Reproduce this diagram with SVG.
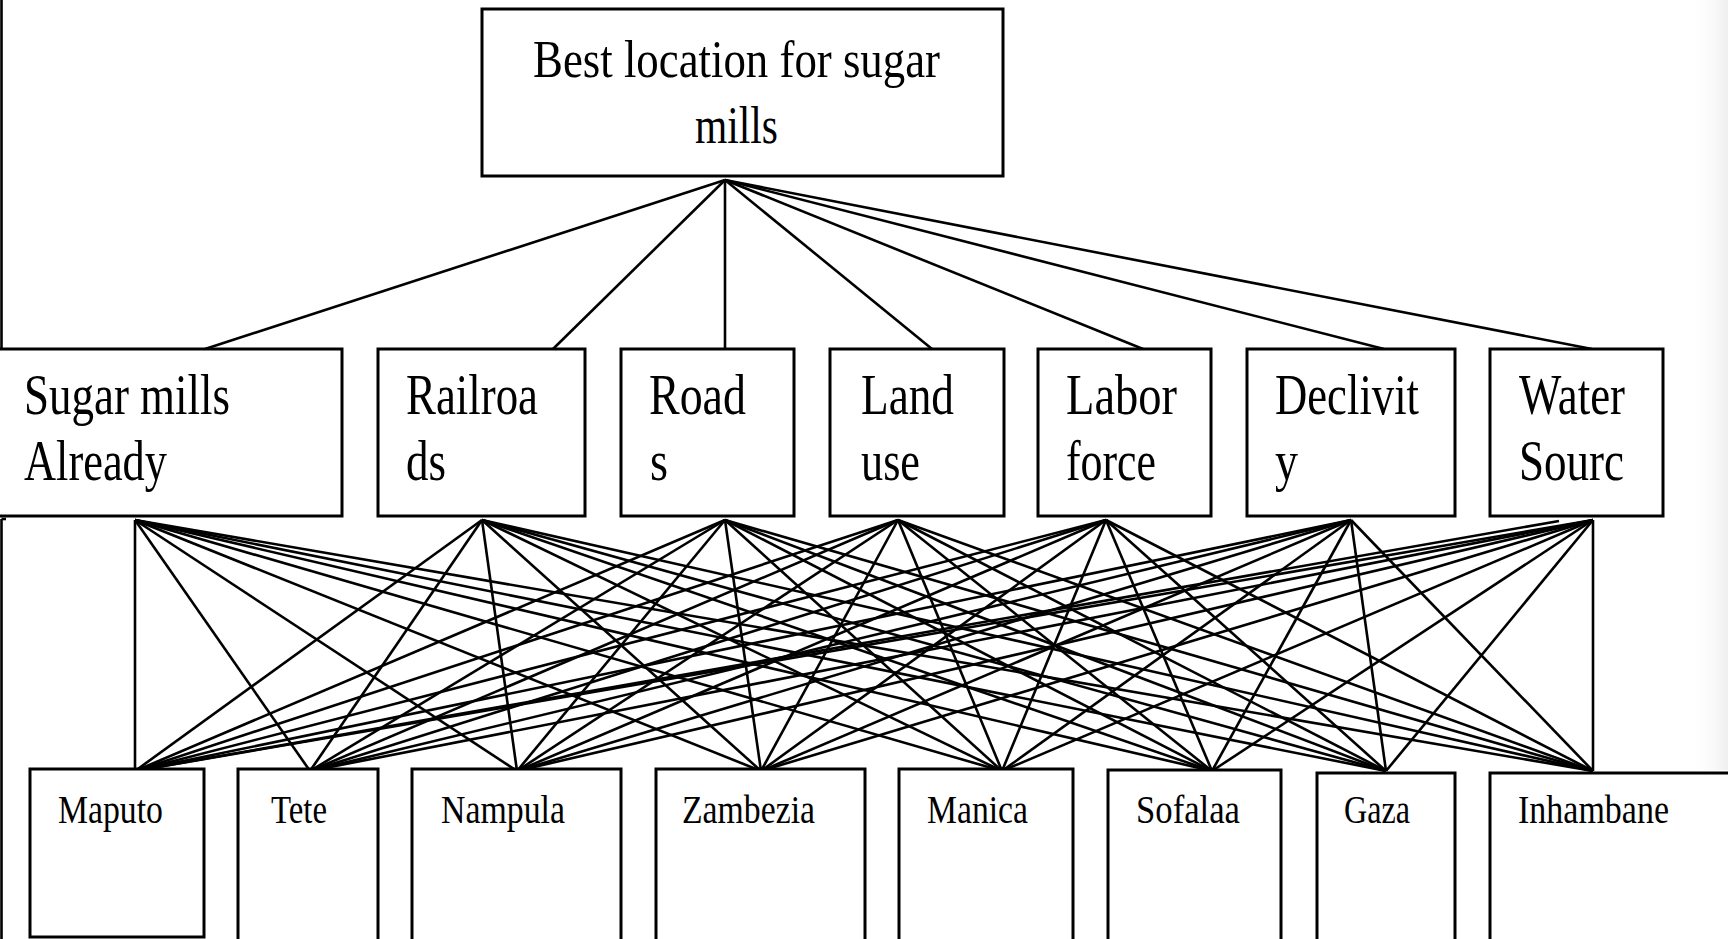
<svg xmlns="http://www.w3.org/2000/svg" width="1728" height="939" viewBox="0 0 1728 939">
<style>
.box{fill:#fff;stroke:#000;stroke-width:3}
.ln{stroke:#000;stroke-width:2.6;fill:none}
.t{font-family:"Liberation Serif","Times New Roman",serif;fill:#000}
.big{font-size:53px}
.mid{font-size:56px}
.sm{font-size:39px}
</style>
<defs>
<linearGradient id="shade" x1="0" y1="0" x2="1" y2="0">
<stop offset="0" stop-color="#ffffff" stop-opacity="0"/>
<stop offset="1" stop-color="#e8e8e8" stop-opacity="0.7"/>
</linearGradient>
</defs>
<rect x="0" y="0" width="1728" height="939" fill="#fff"/>
<rect x="1690" y="0" width="38" height="770" fill="url(#shade)"/>
<line class="ln" x1="1.5" y1="0" x2="1.5" y2="349"/>
<line class="ln" x1="1.5" y1="519" x2="1.5" y2="939"/>
<line class="ln" x1="1.5" y1="519" x2="6" y2="519"/>
<g id="connectors">
<line class="ln" x1="725" y1="180" x2="205" y2="349"/>
<line class="ln" x1="725" y1="180" x2="553" y2="349"/>
<line class="ln" x1="725" y1="180" x2="725" y2="349"/>
<line class="ln" x1="725" y1="180" x2="932" y2="349"/>
<line class="ln" x1="725" y1="180" x2="1143" y2="349"/>
<line class="ln" x1="725" y1="180" x2="1384" y2="349"/>
<line class="ln" x1="725" y1="180" x2="1592" y2="349"/>

<line class="ln" x1="135" y1="520" x2="135" y2="771"/>
<line class="ln" x1="135" y1="520" x2="310" y2="771"/>
<line class="ln" x1="135" y1="520" x2="517" y2="771"/>
<line class="ln" x1="135" y1="520" x2="761" y2="771"/>
<line class="ln" x1="135" y1="520" x2="1002" y2="771"/>
<line class="ln" x1="135" y1="520" x2="1212" y2="771"/>
<line class="ln" x1="135" y1="520" x2="1386" y2="771"/>
<line class="ln" x1="135" y1="520" x2="1593" y2="771"/>

<line class="ln" x1="482" y1="520" x2="135" y2="771"/>
<line class="ln" x1="482" y1="520" x2="310" y2="771"/>
<line class="ln" x1="482" y1="520" x2="517" y2="771"/>
<line class="ln" x1="482" y1="520" x2="761" y2="771"/>
<line class="ln" x1="482" y1="520" x2="1002" y2="771"/>
<line class="ln" x1="482" y1="520" x2="1212" y2="771"/>
<line class="ln" x1="482" y1="520" x2="1386" y2="771"/>
<line class="ln" x1="482" y1="520" x2="1593" y2="771"/>

<line class="ln" x1="725" y1="520" x2="135" y2="771"/>
<line class="ln" x1="725" y1="520" x2="310" y2="771"/>
<line class="ln" x1="725" y1="520" x2="517" y2="771"/>
<line class="ln" x1="725" y1="520" x2="761" y2="771"/>
<line class="ln" x1="725" y1="520" x2="1002" y2="771"/>
<line class="ln" x1="725" y1="520" x2="1212" y2="771"/>
<line class="ln" x1="725" y1="520" x2="1386" y2="771"/>
<line class="ln" x1="725" y1="520" x2="1593" y2="771"/>

<line class="ln" x1="898" y1="520" x2="135" y2="771"/>
<line class="ln" x1="898" y1="520" x2="310" y2="771"/>
<line class="ln" x1="898" y1="520" x2="517" y2="771"/>
<line class="ln" x1="898" y1="520" x2="761" y2="771"/>
<line class="ln" x1="898" y1="520" x2="1002" y2="771"/>
<line class="ln" x1="898" y1="520" x2="1212" y2="771"/>
<line class="ln" x1="898" y1="520" x2="1386" y2="771"/>
<line class="ln" x1="898" y1="520" x2="1593" y2="771"/>

<line class="ln" x1="1106" y1="520" x2="135" y2="771"/>
<line class="ln" x1="1106" y1="520" x2="310" y2="771"/>
<line class="ln" x1="1106" y1="520" x2="517" y2="771"/>
<line class="ln" x1="1106" y1="520" x2="761" y2="771"/>
<line class="ln" x1="1106" y1="520" x2="1002" y2="771"/>
<line class="ln" x1="1106" y1="520" x2="1212" y2="771"/>
<line class="ln" x1="1106" y1="520" x2="1386" y2="771"/>
<line class="ln" x1="1106" y1="520" x2="1593" y2="771"/>

<line class="ln" x1="1351" y1="520" x2="135" y2="771"/>
<line class="ln" x1="1351" y1="520" x2="310" y2="771"/>
<line class="ln" x1="1351" y1="520" x2="517" y2="771"/>
<line class="ln" x1="1351" y1="520" x2="761" y2="771"/>
<line class="ln" x1="1351" y1="520" x2="1002" y2="771"/>
<line class="ln" x1="1351" y1="520" x2="1212" y2="771"/>
<line class="ln" x1="1351" y1="520" x2="1386" y2="771"/>
<line class="ln" x1="1351" y1="520" x2="1593" y2="771"/>

<line class="ln" x1="1593" y1="520" x2="135" y2="771"/>
<line class="ln" x1="1593" y1="520" x2="310" y2="771"/>
<line class="ln" x1="1593" y1="520" x2="517" y2="771"/>
<line class="ln" x1="1593" y1="520" x2="761" y2="771"/>
<line class="ln" x1="1593" y1="520" x2="1002" y2="771"/>
<line class="ln" x1="1593" y1="520" x2="1212" y2="771"/>
<line class="ln" x1="1593" y1="520" x2="1386" y2="771"/>
<line class="ln" x1="1593" y1="520" x2="1593" y2="771"/>

<line class="ln" x1="1559" y1="521" x2="135" y2="771"/>
</g>
<g id="goal">
<rect class="box" x="482" y="9" width="521" height="167"/>
<text class="t big" x="533" y="77" textLength="407" lengthAdjust="spacingAndGlyphs">Best location for sugar</text>
<text class="t big" x="695" y="143" textLength="83" lengthAdjust="spacingAndGlyphs">mills</text>
</g>
<g id="c-sugar-mills">
<rect class="box" x="-3" y="349" width="345" height="167"/>
<text class="t mid" x="24" y="414" textLength="206" lengthAdjust="spacingAndGlyphs">Sugar mills</text>
<text class="t mid" x="24" y="480" textLength="143" lengthAdjust="spacingAndGlyphs">Already</text>
</g>
<g id="c-railroads">
<rect class="box" x="378" y="349" width="207" height="167"/>
<text class="t mid" x="406" y="414" textLength="132" lengthAdjust="spacingAndGlyphs">Railroa</text>
<text class="t mid" x="406" y="480" textLength="40" lengthAdjust="spacingAndGlyphs">ds</text>
</g>
<g id="c-roads">
<rect class="box" x="621" y="349" width="173" height="167"/>
<text class="t mid" x="649" y="414" textLength="97" lengthAdjust="spacingAndGlyphs">Road</text>
<text class="t mid" x="650" y="480" textLength="18" lengthAdjust="spacingAndGlyphs">s</text>
</g>
<g id="c-land-use">
<rect class="box" x="830" y="349" width="174" height="167"/>
<text class="t mid" x="861" y="414" textLength="93" lengthAdjust="spacingAndGlyphs">Land</text>
<text class="t mid" x="861" y="480" textLength="59" lengthAdjust="spacingAndGlyphs">use</text>
</g>
<g id="c-labor-force">
<rect class="box" x="1038" y="349" width="173" height="167"/>
<text class="t mid" x="1066" y="414" textLength="111" lengthAdjust="spacingAndGlyphs">Labor</text>
<text class="t mid" x="1066" y="480" textLength="90" lengthAdjust="spacingAndGlyphs">force</text>
</g>
<g id="c-declivity">
<rect class="box" x="1247" y="349" width="208" height="167"/>
<text class="t mid" x="1275" y="414" textLength="144" lengthAdjust="spacingAndGlyphs">Declivit</text>
<text class="t mid" x="1275" y="480" textLength="23" lengthAdjust="spacingAndGlyphs">y</text>
</g>
<g id="c-water-source">
<rect class="box" x="1490" y="349" width="173" height="167"/>
<text class="t mid" x="1519" y="414" textLength="106" lengthAdjust="spacingAndGlyphs">Water</text>
<text class="t mid" x="1519" y="480" textLength="105" lengthAdjust="spacingAndGlyphs">Sourc</text>
</g>
<g id="a-maputo">
<rect class="box" x="30" y="769" width="174" height="168"/>
<text class="t sm" x="58" y="823" textLength="105" lengthAdjust="spacingAndGlyphs">Maputo</text>
</g>
<g id="a-tete">
<rect class="box" x="238" y="769" width="140" height="180"/>
<text class="t sm" x="271" y="823" textLength="56" lengthAdjust="spacingAndGlyphs">Tete</text>
</g>
<g id="a-nampula">
<rect class="box" x="412" y="769" width="209" height="180"/>
<text class="t sm" x="441" y="823" textLength="124" lengthAdjust="spacingAndGlyphs">Nampula</text>
</g>
<g id="a-zambezia">
<rect class="box" x="656" y="769" width="209" height="180"/>
<text class="t sm" x="682" y="823" textLength="133" lengthAdjust="spacingAndGlyphs">Zambezia</text>
</g>
<g id="a-manica">
<rect class="box" x="899" y="769" width="174" height="180"/>
<text class="t sm" x="927" y="823" textLength="101" lengthAdjust="spacingAndGlyphs">Manica</text>
</g>
<g id="a-sofalaa">
<rect class="box" x="1108" y="770" width="173" height="180"/>
<text class="t sm" x="1136" y="823" textLength="104" lengthAdjust="spacingAndGlyphs">Sofalaa</text>
</g>
<g id="a-gaza">
<rect class="box" x="1317" y="773" width="138" height="180"/>
<text class="t sm" x="1344" y="823" textLength="66" lengthAdjust="spacingAndGlyphs">Gaza</text>
</g>
<g id="a-inhambane">
<rect class="box" x="1490" y="773" width="260" height="180"/>
<text class="t sm" x="1518" y="823" textLength="151" lengthAdjust="spacingAndGlyphs">Inhambane</text>
</g>
</svg>
